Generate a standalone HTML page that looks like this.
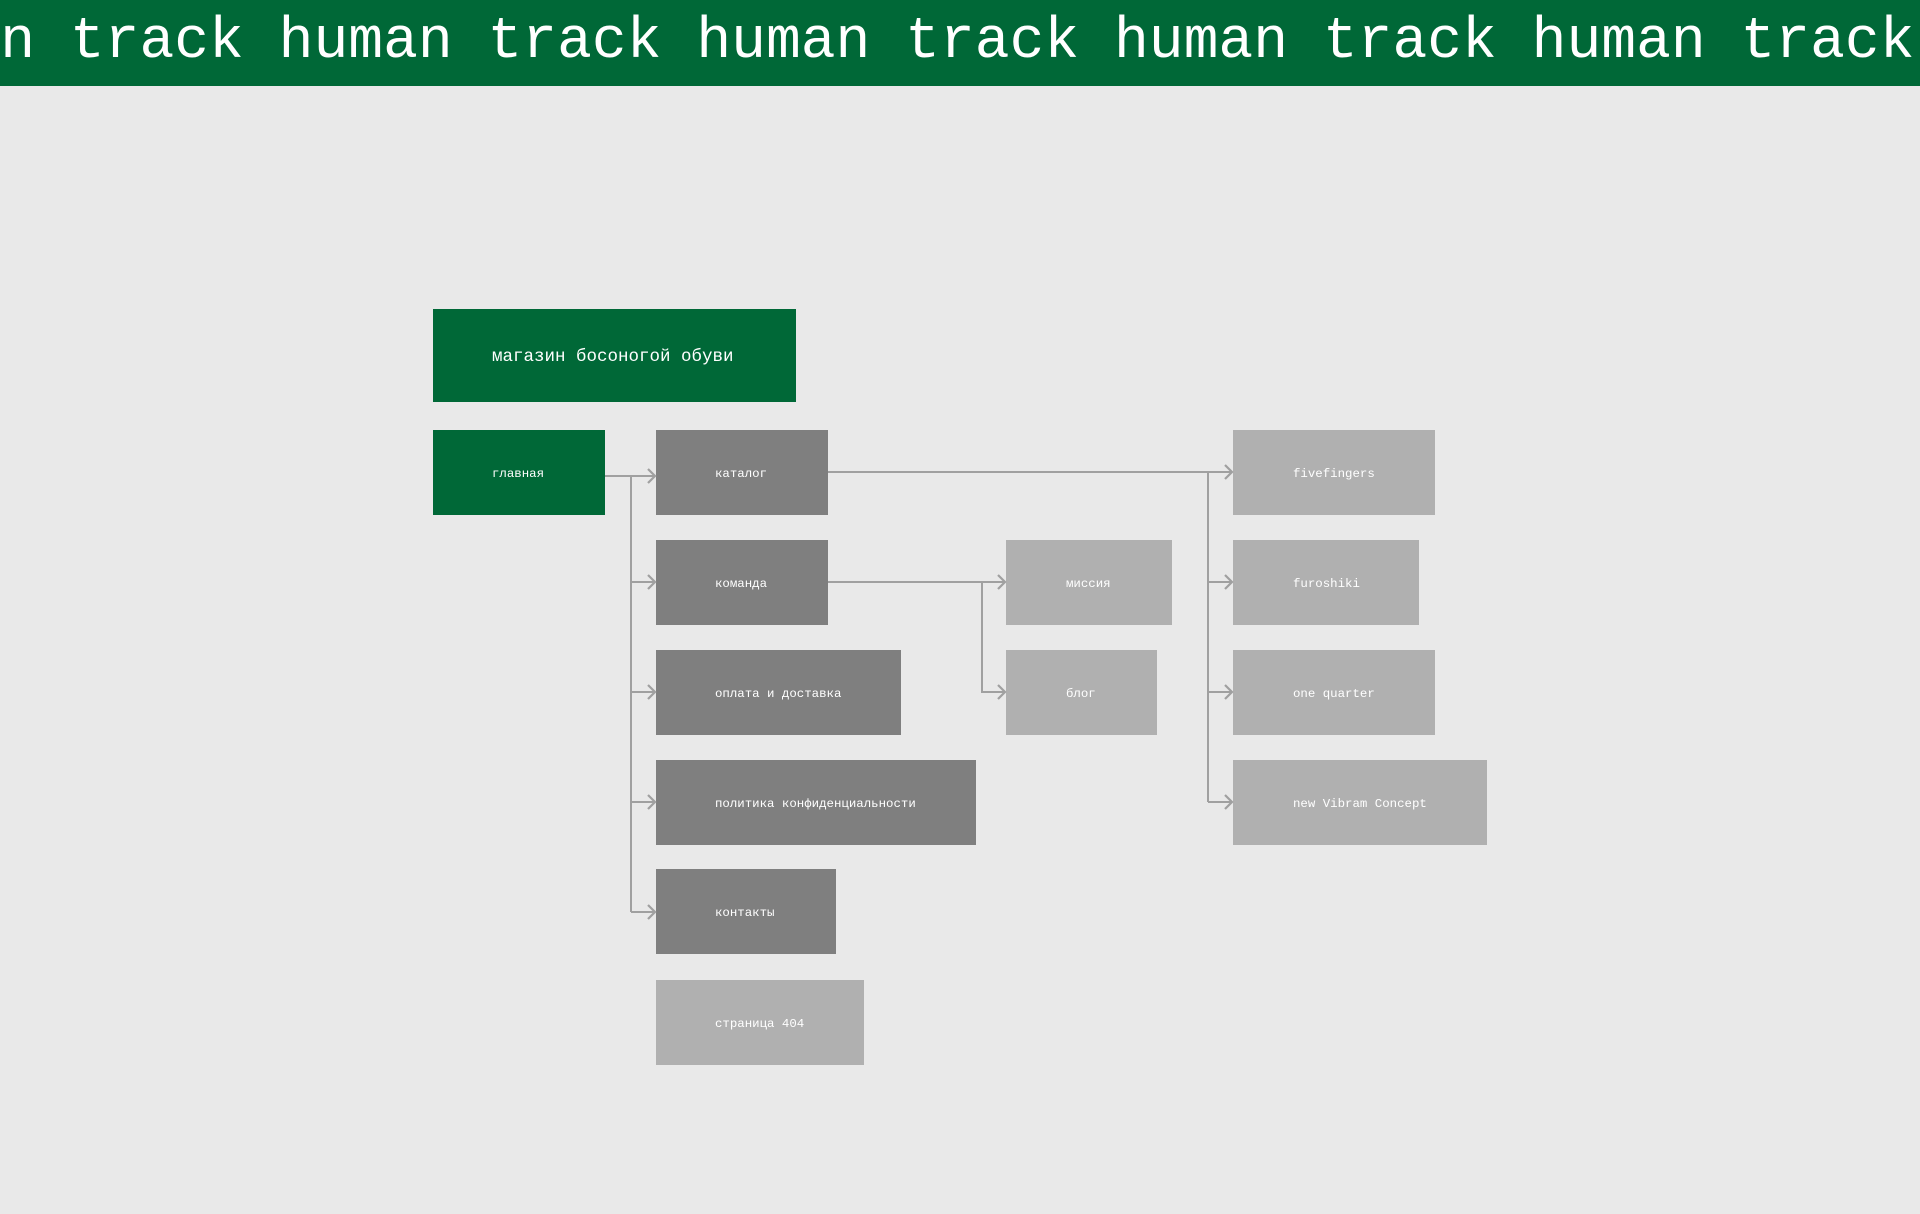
<!DOCTYPE html>
<html><head><meta charset="utf-8"><style>
body{margin:0;width:1920px;height:1214px;background:#e9e9e9;overflow:hidden;position:relative;font-family:"Liberation Mono","DejaVu Sans Mono",monospace}
.hdr{position:absolute;left:0;top:0;width:1920px;height:86px;background:#006837;overflow:hidden}
.hdr span{position:absolute;left:-139px;top:0px;font-size:58px;color:#fff;white-space:pre;line-height:86px}
.b{position:absolute;height:85px;color:#fff;font-size:12.4px;line-height:85px;padding-left:59px;padding-top:2px;box-sizing:border-box;white-space:nowrap}
.g{background:#006837}.d{background:#7f7f7f}.l{background:#b0b0b0}
svg{position:absolute;left:0;top:0}
</style></head><body>
<div class="hdr"><span>human track human track human track human track human track human track human track human track human track human track</span></div>
<div class="b g" style="left:433px;top:309px;width:363px;height:93px;line-height:93px;font-size:17.5px">магазин босоногой обуви</div>
<div class="b g" style="left:433px;top:430px;width:172px">главная</div>
<div class="b d" style="left:656px;top:430px;width:172px">каталог</div>
<div class="b d" style="left:656px;top:540px;width:172px">команда</div>
<div class="b d" style="left:656px;top:650px;width:245px">оплата и доставка</div>
<div class="b d" style="left:656px;top:760px;width:320px">политика конфиденциальности</div>
<div class="b d" style="left:656px;top:869px;width:180px">контакты</div>
<div class="b l" style="left:656px;top:980px;width:208px">страница 404</div>
<div class="b l" style="left:1006px;top:540px;width:166px;padding-left:60px">миссия</div>
<div class="b l" style="left:1006px;top:650px;width:151px;padding-left:60px">блог</div>
<div class="b l" style="left:1233px;top:430px;width:202px;padding-left:60px">fivefingers</div>
<div class="b l" style="left:1233px;top:540px;width:186px;padding-left:60px">furoshiki</div>
<div class="b l" style="left:1233px;top:650px;width:202px;padding-left:60px">one quarter</div>
<div class="b l" style="left:1233px;top:760px;width:254px;padding-left:60px">new Vibram Concept</div>
<svg width="1920" height="1214" fill="none" stroke="#a0a0a0" stroke-width="2">
<path d="M605 476H655M631 476V912M631 582H655M631 692H655M631 802H655M631 912H655"/>
<path d="M828 472H1232M1208 472V802M1208 582H1232M1208 692H1232M1208 802H1232"/>
<path d="M828 582H1005M982 582V692H1005"/>
<g stroke-width="2.2">
<path d="M648 469L655 476L648 483"/>
<path d="M648 575L655 582L648 589M648 685L655 692L648 699M648 795L655 802L648 809M648 905L655 912L648 919"/>
<path d="M1225 465L1232 472L1225 479M1225 575L1232 582L1225 589M1225 685L1232 692L1225 699M1225 795L1232 802L1225 809"/>
<path d="M998 575L1005 582L998 589M998 685L1005 692L998 699"/>
</g>
</svg>
</body></html>
